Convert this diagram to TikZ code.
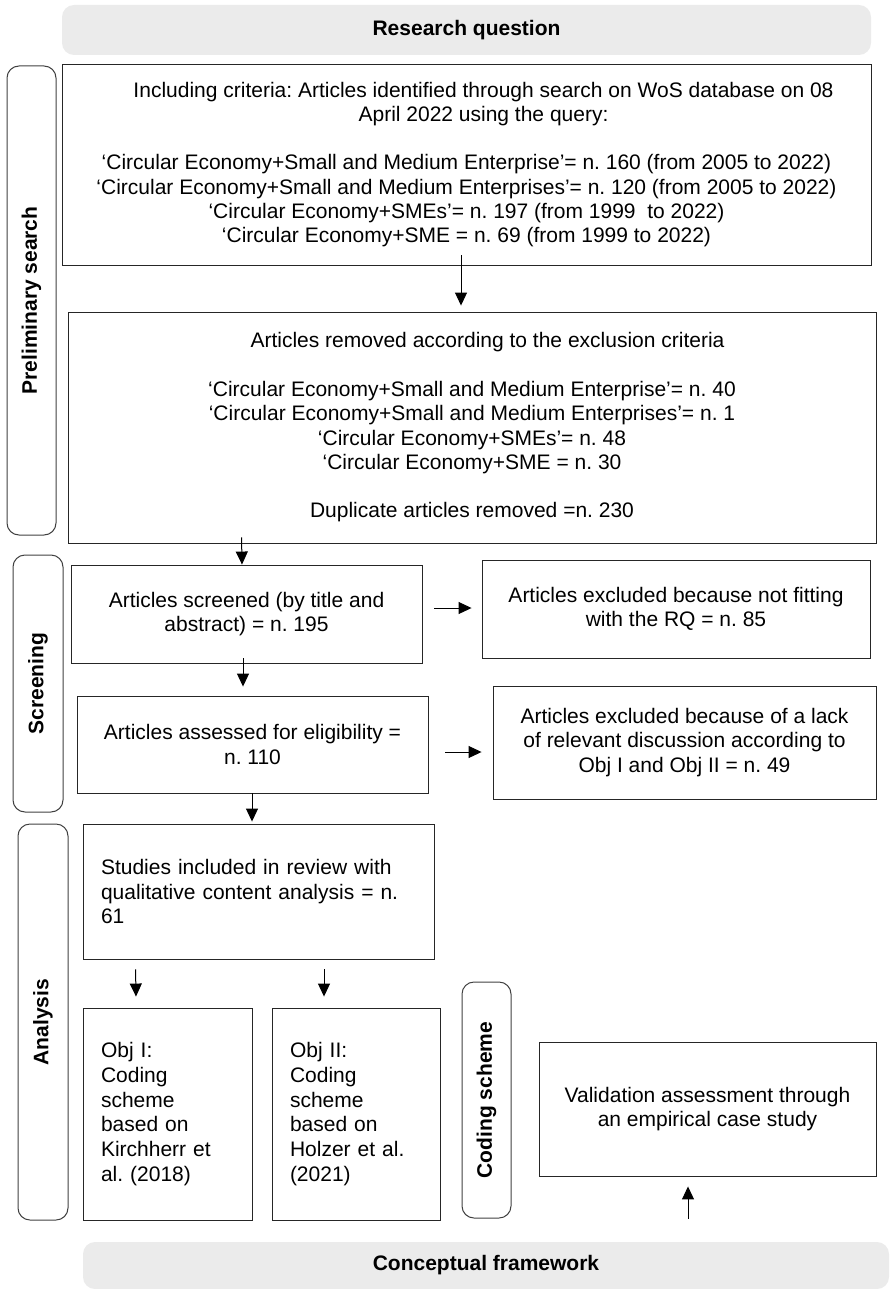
\documentclass[tikz,border=0pt]{standalone}
\usepackage{fontspec}
\setmainfont{Liberation Sans}
\frenchspacing
\usetikzlibrary{arrows.meta}

\begin{document}
\begin{tikzpicture}[x=1pt,y=-1pt,
    box/.style={draw=black!85,line width=0.9pt,inner sep=0pt,font=\fontsize{21}{24.3}\selectfont},
    bar/.style={draw=black!75,line width=1pt,rounded corners=12pt,rotate=90,inner sep=0pt,font=\fontsize{21}{24.3}\selectfont\bfseries},
    band/.style={fill=black!8,rounded corners=12pt,inner sep=0pt,font=\fontsize{21}{24.3}\selectfont\bfseries},
    arr/.style={-{Triangle[length=13pt,width=12pt]},line width=1pt}]
    \useasboundingbox (0,0) rectangle (889,1289);

    % top and bottom bands
    \node[band,minimum width=809,minimum height=50] (rq) at (466.5,30) {Research question};
    \node[band,minimum width=806,minimum height=47] (cf) at (486,1265.5) {Conceptual framework};

    % stage bars
    \node[bar,minimum width=469,minimum height=49] (prelim) at (31.5,300.5) {Preliminary search};
    \node[bar,minimum width=257,minimum height=50] (screen) at (38,683.5) {Screening};
    \node[bar,minimum width=396,minimum height=50] (analysis) at (43,1022) {Analysis};
    \node[bar,minimum width=236,minimum height=49] (coding) at (486.5,1100) {Coding scheme};

    % boxes
    \node[box,minimum width=809,minimum height=201,align=center] (incl) at (466.5,164.5)
        {\hspace*{34pt}Including criteria: Articles identified through search on WoS database on 08\\
         \hspace*{34pt}April 2022 using the query:\\[24.3pt]
         ‘Circular Economy+Small and Medium Enterprise’= n. 160 (from 2005 to 2022)\\
         ‘Circular Economy+Small and Medium Enterprises’= n. 120 (from 2005 to 2022)\\
         ‘Circular Economy+SMEs’= n. 197 (from 1999\ \ to 2022)\\
         ‘Circular Economy+SME = n. 69 (from 1999 to 2022)};
    \node[box,minimum width=808,minimum height=231,align=center] (excl) at (472,427.5)
        {\hspace*{31pt}Articles removed according to the exclusion criteria\\[24.3pt]
         ‘Circular Economy+Small and Medium Enterprise’= n. 40\\
         ‘Circular Economy+Small and Medium Enterprises’= n. 1\\
         ‘Circular Economy+SMEs’= n. 48\\
         ‘Circular Economy+SME = n. 30\\[24.3pt]
         Duplicate articles removed =n. 230};
    \node[box,minimum width=351,minimum height=98,align=center] (screened) at (246.5,614)
        {Articles screened (by title and\\abstract) = n. 195};
    \node[box,minimum width=388,minimum height=98,align=center] (notfit) at (676,609)
        {Articles excluded because not fitting\\with the RQ = n. 85};
    \node[box,minimum width=351,minimum height=97,align=center] (assessed) at (252.5,744.5)
        {Articles assessed for eligibility =\\n. 110};
    \node[box,minimum width=383,minimum height=113,align=center] (lack) at (684.5,742.5)
        {Articles excluded because of a lack\\of relevant discussion according to\\Obj I and Obj II = n. 49};
    \node[box,minimum width=351,minimum height=135,text width=315,inner xsep=18pt,align=left] (included) at (258.5,891.5)
        {Studies included in review with\\qualitative content analysis = n.\\61};
    \node[box,minimum width=169,minimum height=212,text width=133,inner xsep=18pt,align=left,font=\fontsize{21}{24.8}\selectfont] (obj1) at (167.5,1114)
        {Obj I:\\Coding\\scheme\\based on\\Kirchherr et\\al. (2018)};
    \node[box,minimum width=168,minimum height=212,text width=132,inner xsep=18pt,align=left,font=\fontsize{21}{24.8}\selectfont] (obj2) at (356,1114)
        {Obj II:\\Coding\\scheme\\based on\\Holzer et al.\\(2021)};
    \node[box,minimum width=337,minimum height=134,align=center] (valid) at (707.5,1109)
        {Validation assessment through\\an empirical case study};

    % arrows
    \draw[arr] ([xshift=-5.5pt,yshift=10pt]incl.south) -- ([xshift=-11pt,yshift=6pt]excl.north);
    \draw[arr] ([xshift=174pt,yshift=6pt]excl.south west) -- ([xshift=-4.5pt]screened.north);
    \draw[arr] ([xshift=12pt,yshift=6pt]screened.east) -- ([xshift=-10pt,yshift=1pt]notfit.west);
    \draw[arr] ([xshift=-3.5pt,yshift=5pt]screened.south) -- ([xshift=-9.5pt,yshift=9pt]assessed.north);
    \draw[arr] ([xshift=17pt,yshift=-7.5pt]assessed.east) -- ([xshift=-11pt,yshift=-9.5pt]lack.west);
    \draw[arr] ([xshift=-0.5pt]assessed.south) -- ([xshift=-6.5pt,yshift=2pt]included.north);
    \draw[arr] ([xshift=53pt,yshift=-10pt]included.south west) -- ([xshift=-31.5pt,yshift=11pt]obj1.north);
    \draw[arr] ([xshift=65.5pt,yshift=-10pt]included.south) -- ([xshift=-32pt,yshift=11pt]obj2.north);
    \draw[arr] ([xshift=202pt,yshift=23pt]cf.north) -- ([xshift=-19.5pt,yshift=-10pt]valid.south);
\end{tikzpicture}
\end{document}
